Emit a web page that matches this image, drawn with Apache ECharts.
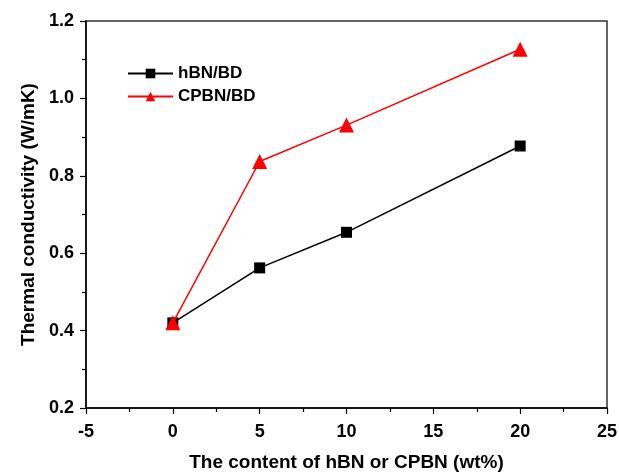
<!DOCTYPE html>
<html><head><meta charset="utf-8">
<script src="https://cdn.jsdelivr.net/npm/echarts@6/dist/echarts.min.js"></script>
<style>html,body{margin:0;padding:0;background:#fff}#c{width:619px;height:472px}</style>
</head><body><div id="c"></div>
<script>
const xValues = [0, 5, 10, 20];
const hbnValues = [0.42, 0.562, 0.654, 0.877];
const cpbnValues = [0.42, 0.837, 0.931, 1.127];
const seriesNames = ['hBN/BD', 'CPBN/BD'];
const xTitle = 'The content of hBN or CPBN (wt%)';
const yTitle = 'Thermal conductivity (W/mK)';

const font = 'Liberation Sans, Arial, sans-serif';
const chart = echarts.init(document.getElementById('c'));
const axisCommon = {
  axisLine: {show: true, onZero: false, lineStyle: {color: '#000', width: 1.5}},
  axisTick: {show: true, inside: false, length: 6, lineStyle: {color: '#000', width: 1.2}},
  minorTick: {show: true, splitNumber: 2, length: 4, lineStyle: {color: '#000', width: 1.2}},
  splitLine: {show: false},
  axisLabel: {color: '#000', fontFamily: font, fontWeight: 'bold', fontSize: 18},
  nameTextStyle: {color: '#000', fontFamily: font, fontWeight: 'bold', fontSize: 19}
};
chart.setOption({
  animation: false,
  grid: {left: 86, right: 12, top: 21, bottom: 64, show: true, borderColor: '#333', borderWidth: 1.5,
         outerBoundsMode: 'none', containLabel: false},
  legend: {
    orient: 'vertical', left: 122, top: 60, itemWidth: 45, itemHeight: 12, itemGap: 6,
    textStyle: {color: '#000', fontFamily: font, fontWeight: 'bold', fontSize: 17},
    data: seriesNames
  },
  xAxis: Object.assign({}, axisCommon, {
    type: 'value', min: -5, max: 25, interval: 5,
    name: xTitle, nameLocation: 'middle', nameGap: 45,
    axisLabel: Object.assign({}, axisCommon.axisLabel, {margin: 15})
  }),
  yAxis: Object.assign({}, axisCommon, {
    type: 'value', min: 0.2, max: 1.2, interval: 0.2,
    name: yTitle, nameLocation: 'middle', nameGap: 48,
    axisLabel: Object.assign({}, axisCommon.axisLabel, {margin: 12, formatter: v => v.toFixed(1)})
  }),
  series: [
    {name: seriesNames[0], type: 'line', data: xValues.map((x, i) => [x, hbnValues[i]]),
     symbol: 'rect', symbolSize: 11, itemStyle: {color: '#000'}, lineStyle: {color: '#000', width: 1.5}, z: 2},
    {name: seriesNames[1], type: 'line', data: xValues.map((x, i) => [x, cpbnValues[i]]),
     symbol: 'triangle', symbolSize: 15, itemStyle: {color: '#ff0000'}, lineStyle: {color: '#ff0000', width: 1.5}, z: 3}
  ]
});
</script></body></html>
